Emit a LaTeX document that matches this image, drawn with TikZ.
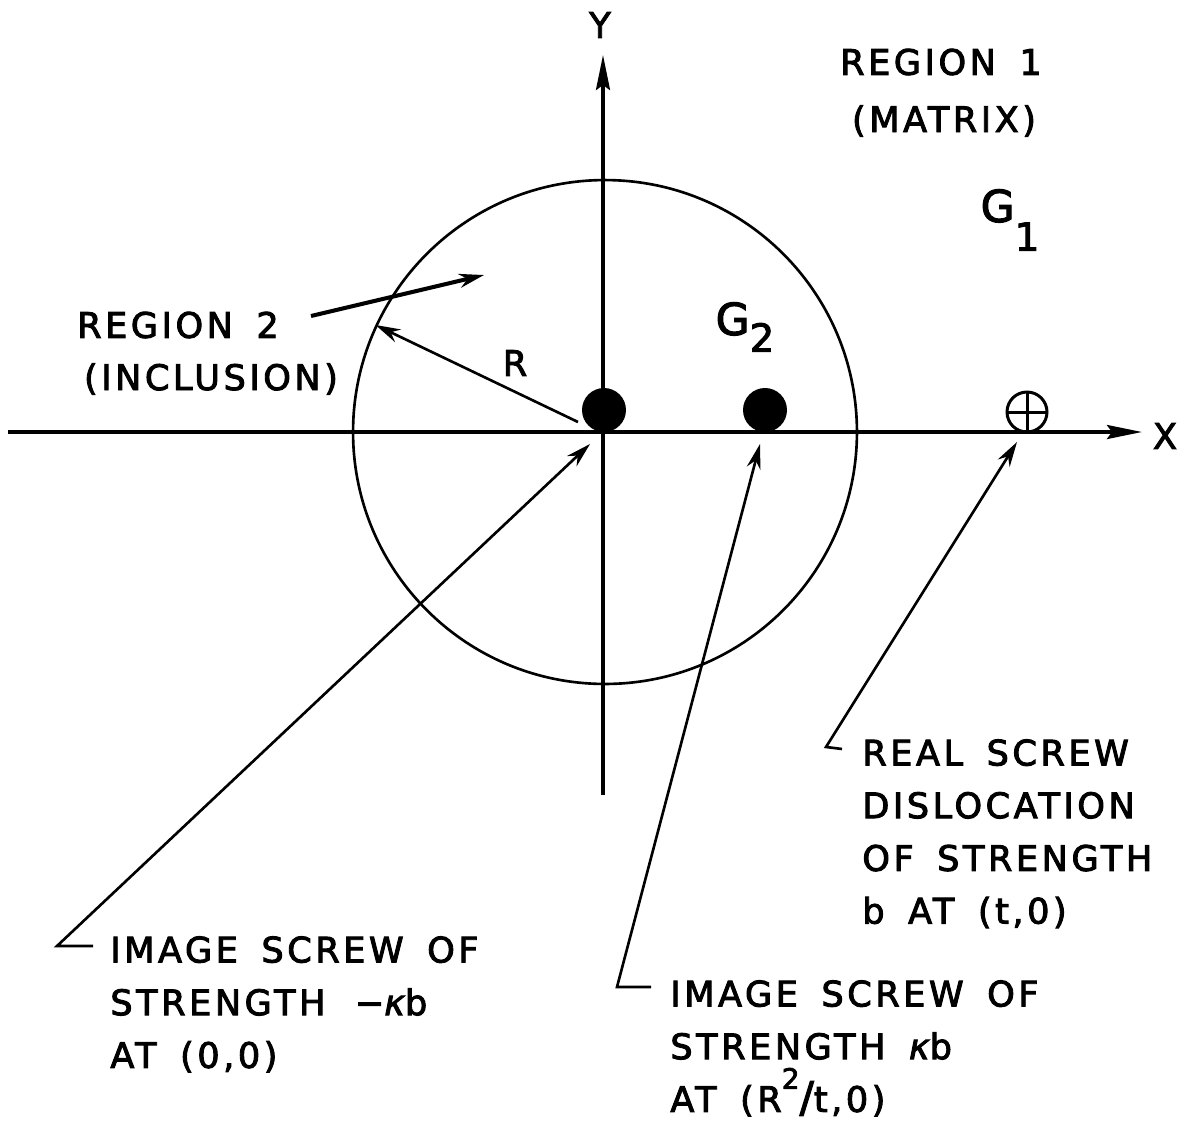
\documentclass[tikz,border=0pt]{standalone}
\usepackage{fontspec}
\setmainfont{DejaVu Sans}
\newfontfamily\lettr[LetterSpace=10, WordSpace=1.6, FakeBold=2.6]{DejaVu Sans}
\usetikzlibrary{arrows.meta}

\begin{document}
\begin{tikzpicture}[x=0.02cm, y=-0.02cm,
    axis/.style={line width=2pt, -{Stealth[length=7mm, width=2.8mm, inset=1mm]}},
    rim/.style={line width=1.5pt},
    lead/.style={line width=1.5pt, -{Stealth[length=5mm, width=2.8mm]}},
    core/.style={circle, fill, inner sep=0pt, minimum size=0.88cm},
    real/.style={circle, draw, line width=1.7pt, inner sep=0pt, minimum size=0.8cm,
        path picture={\draw[line width=1.7pt]
            (path picture bounding box.north) -- (path picture bounding box.south)
            (path picture bounding box.west) -- (path picture bounding box.east);}},
    lbl/.style={font=\lettr\fontsize{20}{30}\selectfont, inner sep=0pt},
    big/.style={font=\lettr\fontsize{25}{30}\selectfont, inner sep=0pt},
    note/.style={lbl, align=left, anchor=north west}
]
\useasboundingbox (0,0) rectangle (1191,1134);

% axes
\coordinate (xl) at (8,432);
\coordinate (xr) at (1142,432);
\coordinate (yb) at (603,795);
\coordinate (yt) at (603,55);
\draw[axis] (xl) -- (xr);
\draw[axis] (yb) -- (yt);
\node[lbl] (xlab) at (1165,436) {X};
\node[lbl] (ylab) at (600,25) {Y};

% inclusion and dislocations
\node[draw, circle, rim, inner sep=0pt, minimum size=10.08cm] (incl) at (605,432) {};
\node[core] (img0) at (604,410) {};
\node[core] (img1) at (765,410) {};
\node[real] (src) at (1027,412) {};

% region labels
\node[lbl] (reg1) at (941,62) {REGION 1};
\node[lbl] (mat) at (944,121) {(MATRIX)};
\node[big] (g1) at (1010,220) {G\raisebox{-1.2ex}{\fontsize{22}{22}\selectfont 1}};
\node[big] (g2) at (745,327) {G\raisebox{-0.7ex}{\fontsize{22}{22}\selectfont 2}};
\node[lbl] (reg2) at (178,325) {REGION 2};
\node[lbl] (inclab) at (211,379) {(INCLUSION)};
\node[lbl] (rlab) at (515,363) {R};

% arrows inside the circle
\coordinate (r0) at (578,422);
\draw[lead] (r0) -- (incl.155);
\coordinate (a0) at (311,316);
\coordinate (a1) at (484,275);
\draw[lead, line width=2.3pt] (a0) -- (a1);

% notes with leaders
\node[note] (n0) at (110,936) {IMAGE SCREW OF\\STRENGTH \,−{\itshape κ}b\\AT (0,0)};
\node[note] (n1) at (670,980) {IMAGE SCREW OF\\STRENGTH {\itshape κ}b\\AT (R\raisebox{1.2ex}{\fontsize{16}{16}\selectfont 2}{\fontsize{24}{24}\selectfont/}t,0)};
\node[note] (n2) at (862,739) {REAL SCREW\\DISLOCATION\\OF STRENGTH\\b AT (t,0)};

\coordinate (t0) at (590,444);
\coordinate (k0) at (57,946);
\coordinate (e0) at (93,946);
\draw[lead] (e0) -- (k0) -- (t0);

\coordinate (t1) at (760,444);
\coordinate (k1) at (617,987);
\coordinate (e1) at (651,987);
\draw[lead] (e1) -- (k1) -- (t1);

\coordinate (t2) at (1017,442);
\coordinate (k2) at (826,747);
\coordinate (e2) at (842,749);
\draw[lead] (e2) -- (k2) -- (t2);

\end{tikzpicture}
\end{document}
